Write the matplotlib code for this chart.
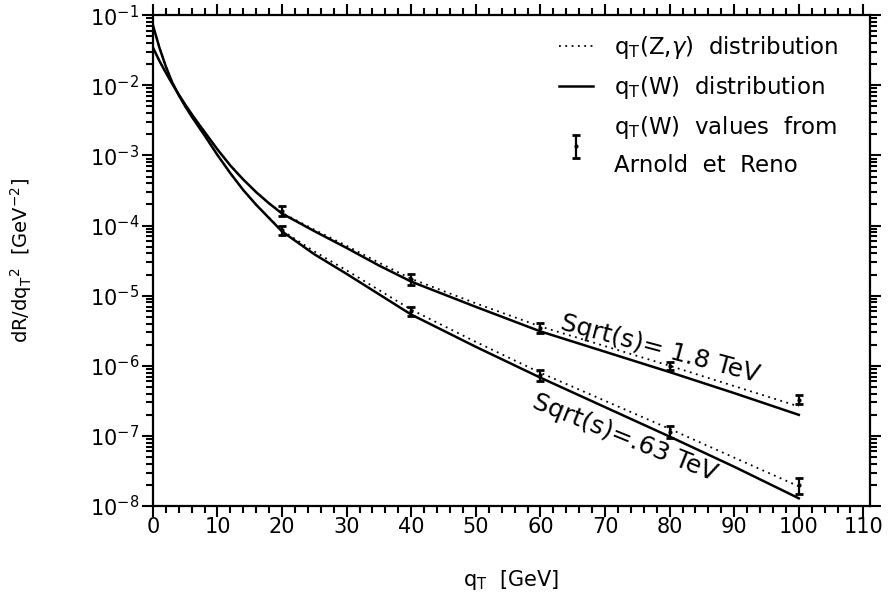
import numpy as np
import matplotlib
matplotlib.use('Agg')
import matplotlib.pyplot as plt
from matplotlib.ticker import MultipleLocator, LogLocator, NullFormatter

plt.rcParams['font.family'] = ['DejaVu Sans']
plt.rcParams['mathtext.fontset'] = 'dejavusans'

# qT grid (GeV)
qt = [0, 1, 2, 3, 4, 5, 6, 7, 8, 10, 12, 14, 16, 18, 20, 25, 30, 35, 40, 50, 60, 70, 80, 90, 100]

# log10 of dR/dqT^2, sqrt(s) = 1.8 TeV
w_18 = [-1.46, -1.65, -1.82, -1.98, -2.13, -2.275, -2.41, -2.54, -2.665, -2.915, -3.145,
        -3.345, -3.525, -3.685, -3.83, -4.08, -4.32, -4.57, -4.80, -5.16, -5.51, -5.80, -6.09, -6.39, -6.70]
z_18 = [-1.46, -1.65, -1.82, -1.98, -2.13, -2.275, -2.41, -2.54, -2.665, -2.915, -3.145,
        -3.345, -3.525, -3.685, -3.82, -4.06, -4.29, -4.53, -4.76, -5.11, -5.44, -5.72, -6.00, -6.29, -6.58]

# log10 of dR/dqT^2, sqrt(s) = .63 TeV
w_63 = [-1.14, -1.46, -1.73, -1.96, -2.14, -2.30, -2.445, -2.58, -2.715, -2.995, -3.255,
        -3.495, -3.705, -3.895, -4.085, -4.41, -4.69, -4.98, -5.27, -5.73, -6.17, -6.59, -7.01, -7.44, -7.89]
z_63 = [-1.14, -1.46, -1.73, -1.96, -2.14, -2.30, -2.445, -2.58, -2.715, -2.995, -3.255,
        -3.495, -3.705, -3.89, -4.07, -4.37, -4.64, -4.92, -5.20, -5.66, -6.10, -6.50, -6.90, -7.31, -7.72]

# Arnold et Reno values
ar_q = [20, 40, 60, 80, 100]
ar_18 = [1.63e-4, 1.72e-5, 3.5e-6, 1.0e-6, 3.3e-7]
ar_18_err = [0.15, 0.17, 0.17, 0.12, 0.15]
ar_63 = [8.7e-5, 6.0e-6, 7.4e-7, 1.15e-7, 2.0e-8]
ar_63_err = [0.15, 0.15, 0.18, 0.2, 0.25]

fig = plt.figure(figsize=(8.94, 6.06), dpi=100)
fig.patch.set_facecolor('white')
ax = fig.add_axes([0.171, 0.165, 0.802, 0.81])

dot, = ax.plot(qt, 10 ** np.array(z_18), color='black', lw=1.3, ls=(0, (1, 2.5)))
ax.plot(qt, 10 ** np.array(z_63), color='black', lw=1.3, ls=(0, (1, 2.5)))
sol, = ax.plot(qt, 10 ** np.array(w_18), color='black', lw=1.8)
ax.plot(qt, 10 ** np.array(w_63), color='black', lw=1.8)

for vals, rel in [(ar_18, ar_18_err), (ar_63, ar_63_err)]:
    v = np.array(vals)
    e = v * np.array(rel)
    eb = ax.errorbar(ar_q, v, yerr=e, fmt='o', ms=2, color='black',
                     elinewidth=1.6, capsize=3, capthick=2)

ax.set_yscale('log')
ax.set_xlim(0, 111)
ax.set_ylim(1e-8, 1e-1)

ax.xaxis.set_major_locator(MultipleLocator(10))
ax.xaxis.set_minor_locator(MultipleLocator(2))
ax.yaxis.set_major_locator(LogLocator(base=10, numticks=20))
ax.yaxis.set_minor_locator(LogLocator(base=10, subs=np.arange(2, 10), numticks=20))
ax.yaxis.set_minor_formatter(NullFormatter())
ax.tick_params(which='both', direction='out', top=True, right=True, width=1.5, labelsize=15)
ax.tick_params(which='major', length=8)
ax.tick_params(which='minor', length=5)
ax.tick_params(axis='x', pad=0)
ax.tick_params(axis='y', pad=2)
for s in ax.spines.values():
    s.set_linewidth(1.6)

ax.set_xlabel(r'q$_{\rm T}$  [GeV]', fontsize=15, labelpad=22)
ax.set_ylabel(r'dR/dq$_{\rm T}$$^2$  [GeV$^{-2}$]', fontsize=14, labelpad=40)

ax.text(78.5, 1.75e-6, 'Sqrt(s)= 1.8 TeV', fontsize=18, rotation=-15,
        ha='center', va='center')
ax.text(73, 9.5e-8, 'Sqrt(s)=.63 TeV', fontsize=18, rotation=-22,
        ha='center', va='center')

leg = ax.legend([dot, sol, eb],
                [r'q$_{\rm T}$(Z,$\gamma$)  distribution', r'q$_{\rm T}$(W)  distribution',
                 'q$_{\\rm T}$(W)  values  from\nArnold  et  Reno'],
                loc='upper right', frameon=False, fontsize=16.5, handlelength=1.5,
                handletextpad=0.9, labelspacing=0.55, bbox_to_anchor=(0.985, 1.003))
for t in leg.get_texts():
    t.set_linespacing(1.75)

fig.savefig('out.png', dpi=100)
